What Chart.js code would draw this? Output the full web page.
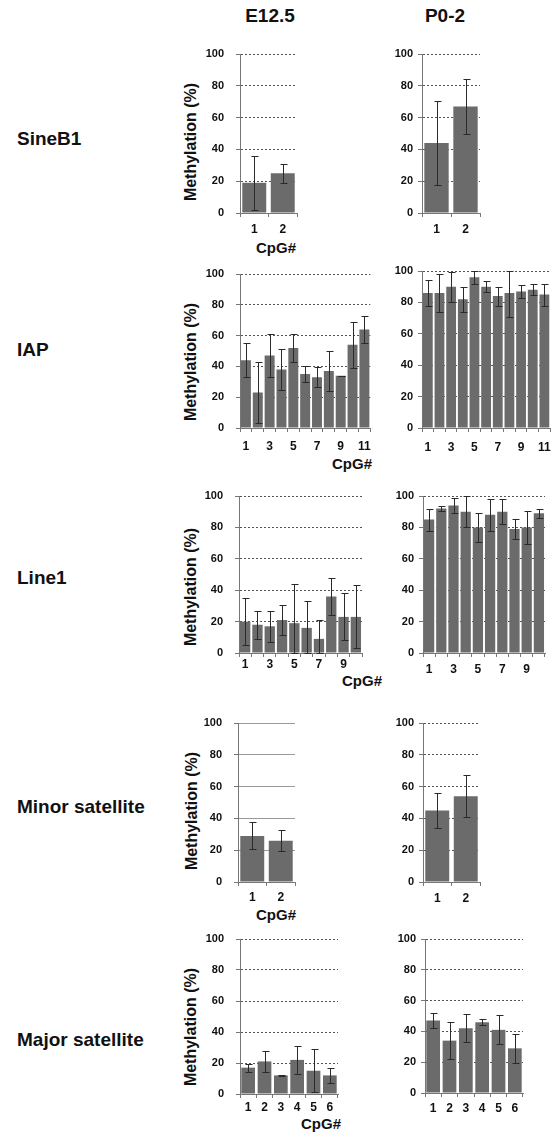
<!DOCTYPE html>
<html>
<head>
<meta charset="utf-8">
<script src="https://cdn.jsdelivr.net/npm/chart.js@4.4.0/dist/chart.umd.min.js"></script>
<style>
  html, body { margin: 0; padding: 0; background: #fff; }
  body { width: 559px; height: 1139px; position: relative; overflow: hidden;
         font-family: "Liberation Sans", Arial, sans-serif; color: #111; }
  canvas { position: absolute; }
  .lbl { position: absolute; font-weight: bold; white-space: nowrap; }
  .head { font-size: 19px; transform: translate(-50%, -50%); }
  .row { font-size: 19px; transform: translateY(-50%); left: 17px; }
  .ytitle { font-size: 16px; transform: translate(-50%, -50%) rotate(-90deg); }
  .xtitle { font-size: 15px; transform: translate(-50%, -50%); }
</style>
</head>
<body>

<div class="lbl head" style="left:270px; top:16px;">E12.5</div>
<div class="lbl head" style="left:445px; top:16px;">P0-2</div>

<div class="lbl row" style="top:139px;">SineB1</div>
<div class="lbl row" style="top:350px;">IAP</div>
<div class="lbl row" style="top:578px;">Line1</div>
<div class="lbl row" style="top:807px;">Minor satellite</div>
<div class="lbl row" style="top:1040px;">Major satellite</div>

<div class="lbl ytitle" style="left:191px; top:142px;">Methylation (%)</div>
<div class="lbl ytitle" style="left:191px; top:362px;">Methylation (%)</div>
<div class="lbl ytitle" style="left:191px; top:587px;">Methylation (%)</div>
<div class="lbl ytitle" style="left:192px; top:811px;">Methylation (%)</div>
<div class="lbl ytitle" style="left:191px; top:1027px;">Methylation (%)</div>

<div class="lbl xtitle" style="left:276px; top:247px;">CpG#</div>
<div class="lbl xtitle" style="left:352px; top:463px;">CpG#</div>
<div class="lbl xtitle" style="left:362px; top:680px;">CpG#</div>
<div class="lbl xtitle" style="left:276px; top:914px;">CpG#</div>
<div class="lbl xtitle" style="left:321px; top:1123px;">CpG#</div>

<script>
// --- Nhãn CpG ---
const cpg2 = ['1', '2'];
const cpg6 = ['1', '2', '3', '4', '5', '6'];
const cpg10 = ['1', '2', '3', '4', '5', '6', '7', '8', '9', '10'];
const cpg11 = ['1', '2', '3', '4', '5', '6', '7', '8', '9', '10', '11'];

// --- Trục y (%) ---
const yTicks = [0, 20, 40, 60, 80, 100];

// --- Dữ liệu methyl hóa (%) và độ lệch chuẩn ---
const sineE125 = [19, 25];
const sineE125Sd = [17, 6];
const sineP02 = [44, 67];
const sineP02Sd = [26.5, 17];

const iapE125 = [44, 23, 47, 38, 52, 35, 33, 37, 34, 54, 64];
const iapE125Sd = [11, 20, 14, 13, 9, 5, 6.5, 13, 0, 15, 9];
const iapP02 = [86, 86, 90, 82, 96, 90, 84, 86, 87, 88, 85];
const iapP02Sd = [8, 12, 9.5, 8, 4, 3.5, 6, 15, 4, 3.5, 7];

const line1E125 = [20, 18, 17, 21, 19, 16, 9, 36, 23, 23];
const line1E125Sd = [15, 9, 10, 9.5, 25, 17, 12, 11.5, 15, 20];
const line1P02 = [85, 92, 94, 90, 80, 88, 90, 79, 80, 89];
const line1P02Sd = [7, 1.5, 5, 10, 9, 10, 8, 6.5, 10.5, 3];

const minorE125 = [29, 26];
const minorE125Sd = [8.5, 6.5];
const minorP02 = [45, 54];
const minorP02Sd = [11, 13];

const majorE125 = [17, 21, 12, 22, 15, 12];
const majorE125Sd = [2.5, 6.5, 0.5, 9, 14, 5];
const majorP02 = [47, 34, 42, 46, 41, 29];
const majorP02Sd = [5, 12, 9, 2, 9.5, 9.5];

// --- Màu & font ---
const BAR_COLOR = '#6b6b6b';
const ERR_COLOR = '#2a2a2a';
const AXIS_COLOR = '#777';
const GRID_COLOR = '#555';
const TEXT_COLOR = '#111';
const Y_FONT = { family: '"Liberation Sans", Arial', size: 11, weight: 'bold' };
const X_FONT = { family: '"Liberation Sans", Arial', size: 12, weight: 'bold' };

const TOP_PAD = 24;   // đủ lớn để chứa padding của nhãn trục y
const Y_W = 40;
const X_H = 30;

// Vị trí từng ô biểu đồ (trục y, đỉnh 100, đáy 0, mép phải)
const panels = [
    { labels: cpg2, values: sineE125, sd: sineE125Sd, axisX: 240, y100: 54, y0: 213, right: 297, xpad: 5, ypad: 12 },
    { labels: cpg2, values: sineP02, sd: sineP02Sd, axisX: 422, y100: 54, y0: 213, right: 480, xpad: 5, ypad: 5 },
    { labels: cpg11, values: iapE125, sd: iapE125Sd, axisX: 240, y100: 274, y0: 428, right: 372, xpad: 7, ypad: 12 },
    { labels: cpg11, values: iapP02, sd: iapP02Sd, axisX: 422, y100: 271, y0: 428, right: 553, xpad: 8, ypad: 5 },
    { labels: cpg10, values: line1E125, sd: line1E125Sd, axisX: 239, y100: 496, y0: 653, right: 362, xpad: 0, ypad: 12 },
    { labels: cpg10, values: line1P02, sd: line1P02Sd, axisX: 423, y100: 496, y0: 653, right: 545, xpad: 5, ypad: 5 },
    { labels: cpg2, values: minorE125, sd: minorE125Sd, axisX: 238, y100: 723, y0: 882, right: 295, xpad: 4, ypad: 12, solid: true },
    { labels: cpg2, values: minorP02, sd: minorP02Sd, axisX: 423, y100: 723, y0: 882, right: 480, xpad: 5, ypad: 5 },
    { labels: cpg6, values: majorE125, sd: majorE125Sd, axisX: 240, y100: 939, y0: 1094, right: 338, xpad: 2, ypad: 12 },
    { labels: cpg6, values: majorP02, sd: majorP02Sd, axisX: 425, y100: 939, y0: 1093, right: 523, xpad: 4, ypad: 5 }
];

// --- Plugin vẽ thanh sai số ---
const errorBars = {
    id: 'errorBars',
    afterDatasetsDraw(chart) {
        const { ctx, scales } = chart;
        const ds = chart.data.datasets[0];
        const meta = chart.getDatasetMeta(0);
        ctx.save();
        ctx.strokeStyle = ERR_COLOR;
        ctx.lineWidth = 1;
        meta.data.forEach((bar, i) => {
            const v = ds.data[i];
            const e = ds.errors[i];
            const hi = Math.min(100, v + e);
            const lo = Math.max(0, v - e);
            const x = Math.round(bar.x) + 0.5;
            const yHi = Math.round(scales.y.getPixelForValue(hi)) + 0.5;
            const yLo = Math.round(scales.y.getPixelForValue(lo)) + 0.5;
            ctx.beginPath();
            ctx.moveTo(x, yHi);
            ctx.lineTo(x, yLo);
            ctx.moveTo(x - 3, yHi);
            ctx.lineTo(x + 4, yHi);
            ctx.moveTo(x - 3, yLo);
            ctx.lineTo(x + 4, yLo);
            ctx.stroke();
        });
        ctx.restore();
    }
};

function makePanel(p) {
    const canvas = document.createElement('canvas');
    const w = Y_W + (p.right - p.axisX) + 6;
    const h = TOP_PAD + (p.y0 - p.y100) + X_H;
    canvas.width = w;
    canvas.height = h;
    canvas.style.width = w + 'px';
    canvas.style.height = h + 'px';
    canvas.style.left = (p.axisX - Y_W) + 'px';
    canvas.style.top = (p.y100 - TOP_PAD) + 'px';
    document.body.appendChild(canvas);

    const many = p.labels.length > 6;

    new Chart(canvas, {
        type: 'bar',
        data: {
            labels: p.labels,
            datasets: [{
                data: p.values,
                errors: p.sd,
                backgroundColor: BAR_COLOR,
                borderWidth: 0,
                barPercentage: 0.84,
                categoryPercentage: 1
            }]
        },
        options: {
            responsive: false,
            animation: false,
            events: [],
            layout: { padding: { top: TOP_PAD, right: 6, left: 0, bottom: 0 } },
            plugins: {
                legend: { display: false },
                tooltip: { enabled: false }
            },
            scales: {
                x: {
                    offset: true,
                    grid: { display: true, offset: true, drawOnChartArea: false, drawTicks: true, tickLength: 4, color: AXIS_COLOR },
                    border: { display: true, color: AXIS_COLOR },
                    ticks: {
                        autoSkip: false,
                        maxRotation: 0,
                        padding: p.xpad,
                        color: TEXT_COLOR,
                        font: X_FONT,
                        callback: function (val, i) {
                            const lab = this.getLabelForValue(val);
                            return many && i % 2 === 1 ? '' : lab;
                        }
                    },
                    afterFit: (s) => { s.height = X_H; }
                },
                y: {
                    min: 0,
                    max: 100,
                    afterBuildTicks: (s) => { s.ticks = yTicks.map(v => ({ value: v })); },
                    grid: {
                        color: p.solid ? '#9a9a9a' : GRID_COLOR,
                        tickColor: AXIS_COLOR,
                        tickLength: 4,
                        drawTicks: true
                    },
                    border: { display: true, color: AXIS_COLOR, dash: p.solid ? [] : [2, 2] },
                    ticks: { padding: p.ypad, color: TEXT_COLOR, font: Y_FONT },
                    afterFit: (s) => { s.width = Y_W; }
                }
            }
        },
        plugins: [errorBars]
    });
}

panels.forEach(makePanel);
</script>
</body>
</html>
